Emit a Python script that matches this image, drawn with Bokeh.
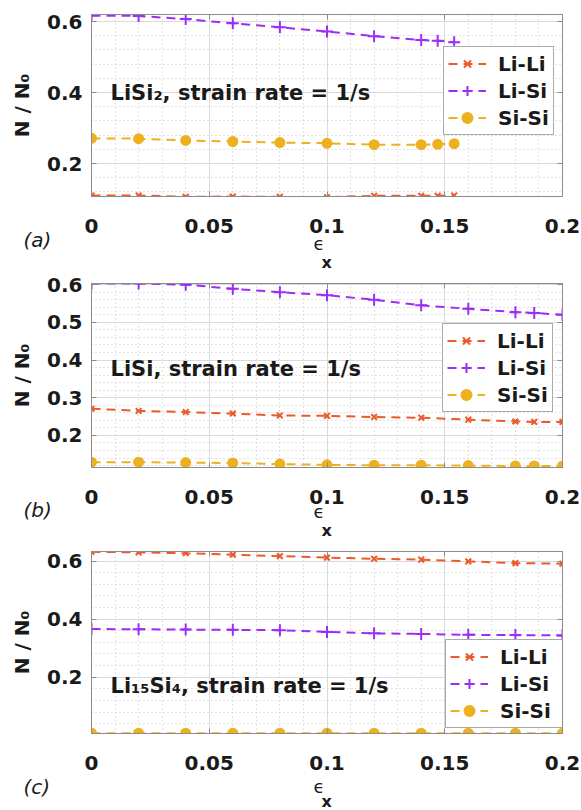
from bokeh.plotting import figure
from bokeh.models import (Range1d, Label, Legend, LegendItem, Title,
                          LinearAxis, SingleIntervalTicker,
                          NumeralTickFormatter)
from bokeh.layouts import column
from bokeh.embed import file_html
from bokeh.resources import INLINE

# ---------------- data ----------------
series_names = ["Li-Li", "Li-Si", "Si-Si"]

# (a) LiSi2
strain_a = [0.0, 0.02, 0.04, 0.06, 0.08, 0.10, 0.12, 0.14, 0.147, 0.154]
lili_a = [0.110, 0.110, 0.106, 0.107, 0.106, 0.105, 0.109, 0.109, 0.109, 0.110]
lisi_a = [0.617, 0.616, 0.607, 0.595, 0.584, 0.572, 0.559, 0.548, 0.546, 0.542]
sisi_a = [0.271, 0.270, 0.265, 0.262, 0.259, 0.257, 0.253, 0.253, 0.254, 0.256]

# (b) LiSi
strain_b = [0.0, 0.02, 0.04, 0.06, 0.08, 0.10, 0.12, 0.14, 0.16, 0.18, 0.188, 0.20]
lili_b = [0.271, 0.265, 0.262, 0.258, 0.253, 0.252, 0.249, 0.247, 0.242, 0.237, 0.236, 0.236]
lisi_b = [0.603, 0.603, 0.600, 0.589, 0.580, 0.572, 0.560, 0.545, 0.536, 0.527, 0.525, 0.520]
sisi_b = [0.129, 0.129, 0.128, 0.127, 0.124, 0.122, 0.121, 0.121, 0.120, 0.119, 0.119, 0.119]

# (c) Li15Si4
strain_c = [0.0, 0.02, 0.04, 0.06, 0.08, 0.10, 0.12, 0.14, 0.16, 0.18, 0.20]
lili_c = [0.632, 0.630, 0.627, 0.622, 0.617, 0.612, 0.608, 0.605, 0.599, 0.593, 0.591]
lisi_c = [0.366, 0.365, 0.364, 0.363, 0.362, 0.356, 0.351, 0.349, 0.346, 0.345, 0.344]
sisi_c = [0.007, 0.007, 0.007, 0.007, 0.007, 0.007, 0.007, 0.007, 0.007, 0.007, 0.007]

annotations = ["LiSi\u2082, strain rate = 1/s",
               "LiSi, strain rate = 1/s",
               "Li\u2081\u2085Si\u2084, strain rate = 1/s"]
tags = ["(a)", "(b)", "(c)"]
x_label_main = "\u03f5"
x_label_sub = "x"
y_label = "N / N\u2080"

# ---------------- style ----------------
COLORS = {"Li-Li": "#EC5A2C", "Li-Si": "#9B2EF5", "Si-Si": "#EDB120"}
MARKERS = {"Li-Li": ("x", 8), "Li-Si": ("cross", 12), "Si-Si": ("circle", 9)}
FONT = "DejaVu Sans"
AX = "#8C8C8C"


def below_text(p, text, offset, standoff, style, size):
    try:
        t = Title(text=text, align="left", offset=offset, standoff=standoff,
                  vertical_align="bottom")
    except Exception:
        t = Title(text=text, align="left", offset=offset, standoff=0,
                  vertical_align="bottom")
    t.text_font = FONT
    t.text_font_style = style
    t.text_font_size = size
    t.text_color = "#1a1a1a"
    p.add_layout(t, "below")


def box_axis(p, interval, side):
    ax = LinearAxis(ticker=SingleIntervalTicker(interval=interval,
                                                num_minor_ticks=5))
    ax.axis_line_color = AX
    ax.major_tick_line_color = AX
    ax.major_tick_in = 5
    ax.major_tick_out = 0
    ax.minor_tick_in = 0
    ax.minor_tick_out = 0
    ax.major_label_text_color = None
    ax.major_label_text_font_size = "1px"
    ax.major_label_standoff = 0
    p.add_layout(ax, side)


def make_panel(x, ys, yr, yint, h, btop, bbot, ann, ann_y, tag,
               st_tag, st_eps, st_x, leg_loc, leg_label_w):
    p = figure(width=581, height=h, x_range=Range1d(0, 0.2),
               y_range=Range1d(*yr), output_backend="svg",
               toolbar_location=None, min_border_left=91,
               min_border_right=19, min_border_top=btop,
               min_border_bottom=bbot)
    p.background_fill_color = "white"
    p.border_fill_color = "white"
    p.outline_line_color = AX
    p.outline_line_width = 1

    p.xaxis.ticker = SingleIntervalTicker(interval=0.05, num_minor_ticks=5)
    p.yaxis.ticker = SingleIntervalTicker(interval=yint, num_minor_ticks=5)
    p.xaxis.formatter = NumeralTickFormatter(format="0.[00]")
    p.yaxis.formatter = NumeralTickFormatter(format="0.[0]")
    for ax in (p.xaxis, p.yaxis):
        ax.axis_line_color = AX
        ax.major_tick_line_color = AX
        ax.major_tick_in = 5
        ax.major_tick_out = 0
        ax.minor_tick_in = 0
        ax.minor_tick_out = 0
        ax.major_label_text_font = FONT
        ax.major_label_text_font_style = "bold"
        ax.major_label_text_font_size = "20px"
        ax.major_label_text_color = "#1a1a1a"
    p.xaxis.major_label_standoff = 22
    p.yaxis.major_label_standoff = 9
    p.yaxis.axis_label = y_label
    p.yaxis.axis_label_text_font = FONT
    p.yaxis.axis_label_text_font_style = "bold"
    p.yaxis.axis_label_text_font_size = "20px"
    p.yaxis.axis_label_text_color = "#1a1a1a"
    p.yaxis.axis_label_standoff = 10

    box_axis(p, yint, "right")
    box_axis(p, 0.05, "above")

    for g in (p.xgrid, p.ygrid):
        g.grid_line_color = "#DADADA"
        g.grid_line_width = 1
        g.minor_grid_line_color = "#C4C4C4"
        g.minor_grid_line_dash = "1 3"
        g.minor_grid_line_width = 1

    items = []
    for name, y in zip(series_names, ys):
        c = COLORS[name]
        m, s = MARKERS[name]
        r1 = p.line(x, y, line_color=c, line_width=2, line_dash="9 6")
        r2 = p.scatter(x, y, marker=m, size=s, line_color=c, fill_color=c,
                       line_width=2)
        items.append(LegendItem(label=name, renderers=[r1, r2]))
    leg = Legend(items=items, location=leg_loc)
    leg.border_line_color = "#555555"
    leg.border_line_width = 1
    leg.background_fill_color = "white"
    leg.background_fill_alpha = 1
    leg.padding = 4
    leg.spacing = 2
    leg.margin = 0
    leg.label_height = 25
    leg.glyph_height = 25
    leg.glyph_width = 38
    leg.label_width = leg_label_w
    leg.label_standoff = 12
    leg.label_text_font = FONT
    leg.label_text_font_style = "bold"
    leg.label_text_font_size = "20px"
    leg.label_text_color = "#1a1a1a"
    leg.label_text_baseline = "middle"
    p.add_layout(leg)

    p.add_layout(Label(x=19, y=ann_y, x_units="screen", y_units="screen",
                       text=ann, text_font=FONT, text_font_style="bold",
                       text_font_size="21px", text_color="#1a1a1a",
                       text_baseline="middle"))

    below_text(p, tag, -68, st_tag, "italic", "20px")
    below_text(p, x_label_main, 222, st_eps, "normal", "18px")
    below_text(p, x_label_sub, 230, st_x, "bold", "16px")
    return p


pa = make_panel(strain_a, [lili_a, lisi_a, sisi_a], (0.107, 0.62), 0.2,
                272, 14, 76, annotations[0], 104, tags[0], -32, -36, -72,
                (352, 61), 48)
pb = make_panel(strain_b, [lili_b, lisi_b, sisi_b], (0.115, 0.603), 0.1,
                268, 11, 73, annotations[1], 99, tags[1], -30, -30, -66,
                (351, 55), 48)
pc = make_panel(strain_c, [lili_c, lisi_c, sisi_c], (0.006, 0.633), 0.2,
                270, 11, 77, annotations[2], 48, tags[2], -52, -48, -76,
                (354, 5), 62)

layout = column(pa, pb, pc, spacing=0)
open("out.html", "w").write(file_html(layout, INLINE))
